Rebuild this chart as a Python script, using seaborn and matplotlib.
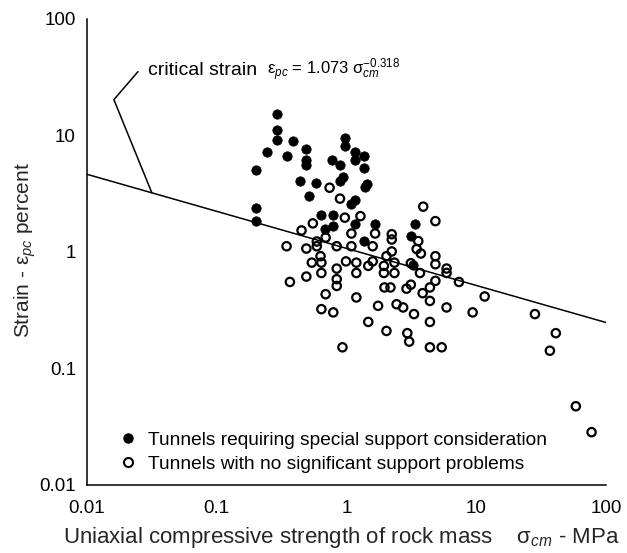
import numpy as np
import pandas as pd
import matplotlib
matplotlib.use("Agg")
import matplotlib.pyplot as plt
import seaborn as sns
from matplotlib.ticker import LogLocator, NullFormatter
from matplotlib.lines import Line2D

# ---- data -------------------------------------------------------------
# Tunnels requiring special support consideration
special_sigma = [0.29, 0.29, 0.29, 0.39, 0.245, 0.345, 0.49, 0.49, 0.49, 0.20,
                 0.44, 0.58, 0.51, 0.20, 0.20, 0.97, 0.97, 0.77, 0.89, 1.16,
                 1.16, 1.36, 1.36, 0.94, 0.885, 1.43, 1.39, 1.16, 1.075, 0.63,
                 0.78, 0.78, 0.68, 1.16, 1.66, 1.36, 3.37, 3.12, 3.27]
special_strain = [15.4, 11.2, 9.2, 8.9, 7.2, 6.6, 7.7, 6.2, 5.6, 5.1,
                  4.1, 3.9, 3.0, 2.4, 1.84, 9.5, 8.2, 6.2, 5.6, 7.2,
                  6.2, 6.6, 5.3, 4.4, 4.1, 3.8, 3.6, 2.8, 2.56, 2.06,
                  2.06, 1.67, 1.56, 1.73, 1.73, 1.24, 1.73, 1.36, 0.78]

# Tunnels with no significant support problems
normal_sigma = [0.74, 0.89, 0.97, 1.28, 0.55, 0.45, 0.69, 0.59, 0.59, 1.09,
                1.66, 0.345, 0.49, 0.84, 1.09, 1.59, 0.63, 2.23, 2.23, 3.90,
                4.84, 3.57, 3.47, 2.23, 2.03, 3.74, 4.84, 0.54, 0.64, 0.99,
                1.19, 1.47, 1.59, 1.94, 2.34, 1.94, 2.34, 3.13, 3.68, 4.84,
                0.84, 0.64, 0.49, 0.366, 1.19, 0.84, 0.84, 1.96, 2.18, 2.90,
                3.13, 3.86, 4.39, 4.84, 0.69, 1.19, 1.75, 2.43, 2.73, 4.39,
                0.64, 0.79, 3.31, 1.47, 2.03, 2.94, 3.04, 4.39, 0.93, 4.39,
                5.41, 5.90, 5.90, 7.35, 11.6, 5.90, 9.37, 28.3, 41.0, 36.9,
                58.5, 77.3]
normal_strain = [3.56, 2.87, 1.97, 2.03, 1.76, 1.53, 1.33, 1.23, 1.12, 1.44,
                 1.44, 1.12, 1.07, 1.12, 1.12, 1.12, 0.92, 1.42, 1.28, 2.45,
                 1.84, 1.24, 1.06, 1.01, 0.92, 0.97, 0.92, 0.81, 0.81, 0.83,
                 0.81, 0.76, 0.83, 0.76, 0.81, 0.66, 0.66, 0.80, 0.66, 0.785,
                 0.72, 0.66, 0.615, 0.553, 0.66, 0.584, 0.511, 0.496, 0.496, 0.484,
                 0.524, 0.443, 0.496, 0.565, 0.434, 0.407, 0.345, 0.356, 0.334, 0.38,
                 0.323, 0.303, 0.293, 0.251, 0.21, 0.201, 0.17, 0.251, 0.152, 0.152,
                 0.152, 0.721, 0.661, 0.553, 0.415, 0.334, 0.303, 0.293, 0.201, 0.142,
                 0.0474, 0.0284]

# critical strain relation  eps = a * sigma^b
coef_a = 1.073
coef_b = -0.318

axis_ticks = [0.01, 0.1, 1, 10, 100]
axis_tick_labels = ["0.01", "0.1", "1", "10", "100"]

group_labels = ["Tunnels requiring special support consideration",
                "Tunnels with no significant support problems"]

# ---- frames -----------------------------------------------------------
special_df = pd.DataFrame({"sigma": special_sigma, "strain": special_strain})
normal_df = pd.DataFrame({"sigma": normal_sigma, "strain": normal_strain})
sigma_line = np.array([axis_ticks[0], axis_ticks[-1]])
line_df = pd.DataFrame({"sigma": sigma_line,
                        "strain": coef_a * sigma_line ** coef_b})

# ---- style ------------------------------------------------------------
sns.set_theme(style="white")
plt.rcParams["font.family"] = ["Liberation Sans", "DejaVu Sans"]
plt.rcParams["mathtext.fontset"] = "custom"
plt.rcParams["mathtext.rm"] = "Liberation Sans"
plt.rcParams["mathtext.it"] = "Liberation Sans:italic"
plt.rcParams["mathtext.bf"] = "Liberation Sans:bold"
plt.rcParams["axes.linewidth"] = 1.1
plt.rcParams["text.color"] = "black"

fig = plt.figure(figsize=(6.27, 5.53), dpi=100)
ax = fig.add_axes([0.1388, 0.1230, 0.8278, 0.8427])
ax.set_xscale("log")
ax.set_yscale("log")

sns.lineplot(data=line_df, x="sigma", y="strain", ax=ax,
             color="black", linewidth=1.1)
sns.scatterplot(data=normal_df, x="sigma", y="strain", ax=ax,
                color="black", facecolors="none", edgecolor="black",
                linewidth=1.6, s=36, marker="o", zorder=3)
sns.scatterplot(data=special_df, x="sigma", y="strain", ax=ax,
                color="black", edgecolor="black", linewidth=0.5,
                s=46, marker="o", zorder=4)

ax.set_xlim(axis_ticks[0], axis_ticks[-1])
ax.set_ylim(axis_ticks[0], axis_ticks[-1])

# ---- axes dressing ----------------------------------------------------
for side in ("top", "right"):
    ax.spines[side].set_visible(False)
for side in ("left", "bottom"):
    ax.spines[side].set_color("black")

ax.set_xticks(axis_ticks, axis_tick_labels)
ax.set_yticks(axis_ticks, axis_tick_labels)
ax.xaxis.set_minor_locator(LogLocator(base=10, subs=np.arange(2, 10)))
ax.yaxis.set_minor_locator(LogLocator(base=10, subs=np.arange(2, 10)))
ax.xaxis.set_minor_formatter(NullFormatter())
ax.yaxis.set_minor_formatter(NullFormatter())
ax.tick_params(which="both", direction="in", color="black",
               top=False, right=False, labelcolor="black")
ax.tick_params(which="major", length=10, width=1.1, labelsize=13.5)
ax.tick_params(which="minor", length=5, width=1.1)
ax.tick_params(axis="x", which="major", pad=11)
ax.tick_params(axis="y", which="major", pad=8)

ax.set_xlabel(r"Uniaxial compressive strength of rock mass    "
              r"$\mathrm{\sigma}_{cm}$ - MPa", fontsize=16)
ax.xaxis.set_label_coords(0.491, -0.085)
ax.set_ylabel(r"Strain - $\mathrm{\varepsilon}_{pc}$ percent", fontsize=15,
              ha="center", va="center")
ax.yaxis.set_label_coords(-0.119, 0.504)

# equation with leader line to the critical strain curve
ax.text(0.1175, 0.88, "critical strain",
        transform=ax.transAxes, fontsize=14, va="baseline", ha="left")
ax.text(0.3466, 0.88,
        r"$\mathrm{\varepsilon}_{pc}$ = 1.073 $\mathrm{\sigma}_{cm}^{-0.318}$",
        transform=ax.transAxes, fontsize=12, va="baseline", ha="left")
leader_end = 0.0316
ax.plot([0.0247, 0.0161, leader_end],
        [35.3, 20.3, coef_a * leader_end ** coef_b],
        color="black", linewidth=1.1)

# legend
handles = [
    Line2D([], [], linestyle="none", marker="o", markersize=6.5,
           markerfacecolor="black", markeredgecolor="black"),
    Line2D([], [], linestyle="none", marker="o", markersize=6.5,
           markerfacecolor="none", markeredgecolor="black",
           markeredgewidth=1.5),
]
ax.legend(handles, group_labels, loc="lower left",
          bbox_to_anchor=(0.053, 0.013), frameon=False, fontsize=13.8,
          handlelength=0.8, handletextpad=0.67, labelspacing=0.35,
          borderaxespad=0, borderpad=0.3)

fig.savefig("out.png", dpi=100)
